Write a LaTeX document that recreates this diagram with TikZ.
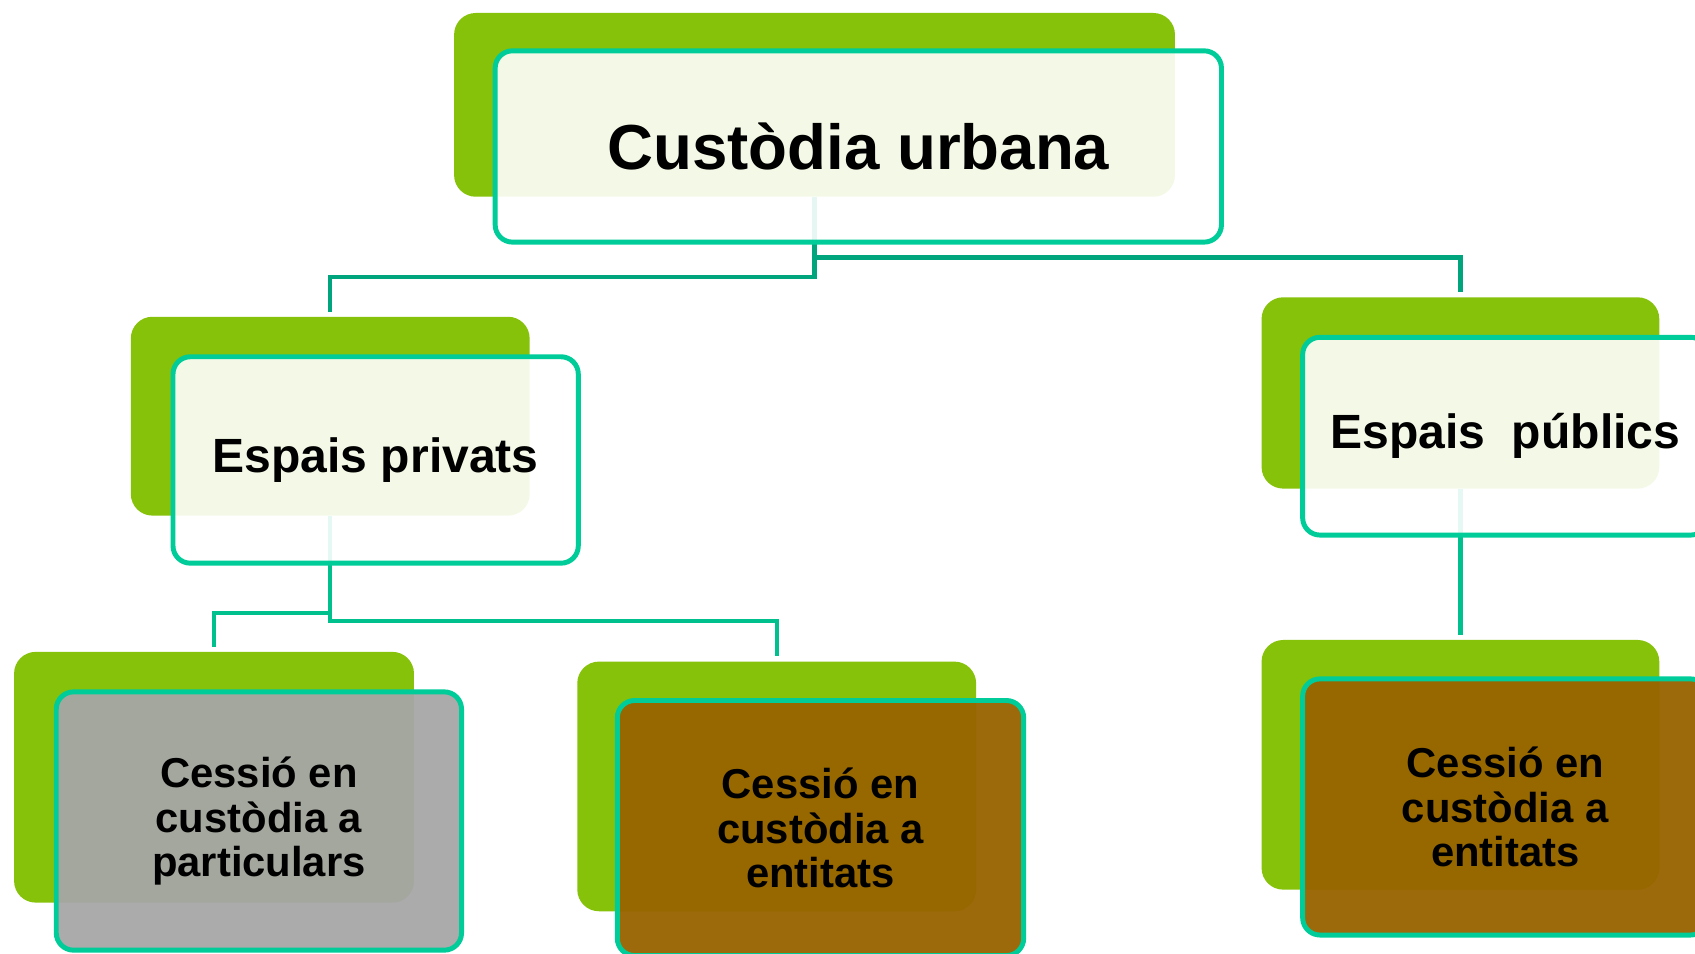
\documentclass[tikz,border=0pt]{standalone}
\usepackage{fontspec}
\setmainfont{Liberation Sans}
\usetikzlibrary{backgrounds}

\definecolor{leafgreen}{RGB}{134,194,10}
\definecolor{seagreen}{RGB}{0,204,153}
\definecolor{linkdark}{RGB}{0,165,125}
\definecolor{linklight}{RGB}{0,192,142}
\definecolor{boxgray}{RGB}{166,166,166}
\definecolor{boxbrown}{RGB}{152,100,0}

\tikzset{
  backbox/.style={rectangle, rounded corners=0.4cm, fill=leafgreen, inner sep=0pt},
  frontbox/.style={rectangle, rounded corners=0.32cm, draw=seagreen, line width=2.6pt,
    fill=white, fill opacity=0.9, text opacity=1, inner sep=0pt, align=center},
  link/.style={line width=2.3pt, shorten >=2.5pt},
  titlefont/.style={font=\fontsize{33.5pt}{40pt}\selectfont\bfseries},
  midfont/.style={font=\fontsize{25.3pt}{30pt}\selectfont\bfseries},
  lowfont/.style={font=\fontsize{22pt}{23.6pt}\selectfont\bfseries}
}

\begin{document}
\begin{tikzpicture}[x=0.02cm, y=-0.02cm]
    \useasboundingbox (0,0) rectangle (1568,882);

    % 後ろの箱
    \node[backbox, minimum width=13.34cm, minimum height=3.4cm] (cuB) at (753.5, 97) {};
    \node[backbox, minimum width=7.38cm, minimum height=3.68cm] (epB) at (305.5, 385) {};
    \node[backbox, minimum width=7.36cm, minimum height=3.54cm] (eqB) at (1351, 363.5) {};
    \node[backbox, minimum width=7.4cm, minimum height=4.64cm] (c1B) at (198, 719) {};
    \node[backbox, minimum width=7.38cm, minimum height=4.62cm] (c2B) at (718.5, 727.5) {};
    \node[backbox, minimum width=7.36cm, minimum height=4.62cm] (c3B) at (1351, 707.5) {};

    % 線を引く
    \begin{scope}[on background layer]
      \draw[link, linkdark] (cuB.south) -- ++(0,74) -| (epB.north);
      \draw[link, linkdark] (cuB.south) -- ++(0,56) -| (eqB.north);
      \draw[link, linklight] (epB.south) -- ++(0,90) -| (c1B.north);
      \draw[link, linklight] (epB.south) -- ++(0,97) -| (c2B.north);
      \draw[link, linklight] (eqB.south) -- (c3B.north);
    \end{scope}

    % 前の箱と文字
    \node[frontbox, titlefont, minimum width=13.44cm, minimum height=3.54cm] (cu) at (794, 135.5) {Custòdia urbana};
    \node[frontbox, midfont, minimum width=7.5cm, minimum height=3.82cm] (ep) at (347.5, 425.5) {Espais privats};
    \node[frontbox, midfont, minimum width=7.5cm, minimum height=3.66cm] (eq) at (1392.5, 403.5) {Espais~~públics};
    \node[frontbox, lowfont, fill=boxgray, fill opacity=0.95, minimum width=7.5cm, minimum height=4.78cm] (c1) at (239.5, 759.5) {Cessió en\\custòdia a\\particulars};
    \node[frontbox, lowfont, fill=boxbrown, fill opacity=0.96, minimum width=7.52cm, minimum height=4.72cm] (c2) at (759, 766) {Cessió en\\custòdia a\\entitats};
    \node[frontbox, lowfont, fill=boxbrown, fill opacity=0.96, minimum width=7.5cm, minimum height=4.74cm] (c3) at (1392.5, 746.5) {Cessió en\\custòdia a\\entitats};

\end{tikzpicture}
\end{document}
